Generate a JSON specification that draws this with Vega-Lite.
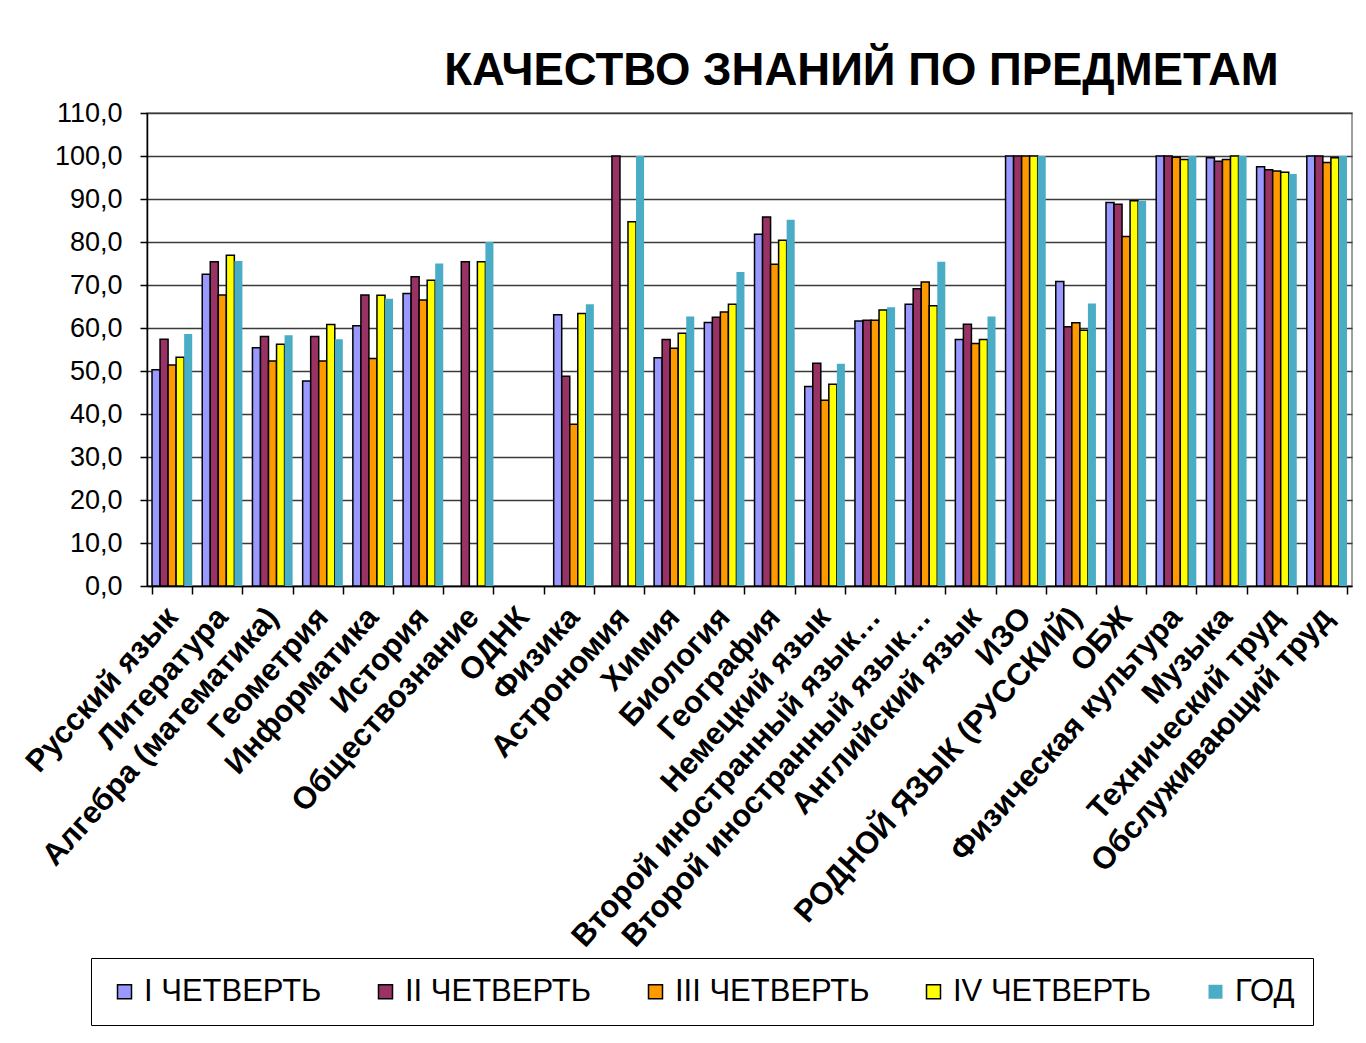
{
  "$schema": "https://vega.github.io/schema/vega-lite/v6.json",
  "autosize": {"type": "none"},
  "width": 1205,
  "height": 473,
  "padding": {"left": 147, "top": 113, "right": 14, "bottom": 457},
  "background": "white",
  "title": {
    "text": "КАЧЕСТВО ЗНАНИЙ ПО ПРЕДМЕТАМ",
    "font": "Liberation Sans",
    "fontSize": 45.5,
    "fontWeight": "bold",
    "color": "black",
    "anchor": "middle",
    "dx": 112,
    "offset": 5
  },
  "config": {
    "view": {"stroke": "#808080", "strokeWidth": 1.5},
    "font": "Liberation Sans"
  },
  "data": {
    "values": [
      {"subject": "Русский язык", "period": "I ЧЕТВЕРТЬ", "value": 50.3},
      {"subject": "Русский язык", "period": "II ЧЕТВЕРТЬ", "value": 57.4},
      {"subject": "Русский язык", "period": "III ЧЕТВЕРТЬ", "value": 51.4},
      {"subject": "Русский язык", "period": "IV ЧЕТВЕРТЬ", "value": 53.2},
      {"subject": "Русский язык", "period": "ГОД", "value": 58.6},
      {"subject": "Литература", "period": "I ЧЕТВЕРТЬ", "value": 72.5},
      {"subject": "Литература", "period": "II ЧЕТВЕРТЬ", "value": 75.4},
      {"subject": "Литература", "period": "III ЧЕТВЕРТЬ", "value": 67.7},
      {"subject": "Литература", "period": "IV ЧЕТВЕРТЬ", "value": 76.9},
      {"subject": "Литература", "period": "ГОД", "value": 75.6},
      {"subject": "Алгебра (математика)", "period": "I ЧЕТВЕРТЬ", "value": 55.4},
      {"subject": "Алгебра (математика)", "period": "II ЧЕТВЕРТЬ", "value": 58.0},
      {"subject": "Алгебра (математика)", "period": "III ЧЕТВЕРТЬ", "value": 52.3},
      {"subject": "Алгебра (математика)", "period": "IV ЧЕТВЕРТЬ", "value": 56.2},
      {"subject": "Алгебра (математика)", "period": "ГОД", "value": 58.3},
      {"subject": "Геометрия", "period": "I ЧЕТВЕРТЬ", "value": 47.7},
      {"subject": "Геометрия", "period": "II ЧЕТВЕРТЬ", "value": 58.0},
      {"subject": "Геометрия", "period": "III ЧЕТВЕРТЬ", "value": 52.3},
      {"subject": "Геометрия", "period": "IV ЧЕТВЕРТЬ", "value": 60.8},
      {"subject": "Геометрия", "period": "ГОД", "value": 57.4},
      {"subject": "Информатика", "period": "I ЧЕТВЕРТЬ", "value": 60.5},
      {"subject": "Информатика", "period": "II ЧЕТВЕРТЬ", "value": 67.7},
      {"subject": "Информатика", "period": "III ЧЕТВЕРТЬ", "value": 52.9},
      {"subject": "Информатика", "period": "IV ЧЕТВЕРТЬ", "value": 67.6},
      {"subject": "Информатика", "period": "ГОД", "value": 66.8},
      {"subject": "История", "period": "I ЧЕТВЕРТЬ", "value": 68.0},
      {"subject": "История", "period": "II ЧЕТВЕРТЬ", "value": 71.9},
      {"subject": "История", "period": "III ЧЕТВЕРТЬ", "value": 66.5},
      {"subject": "История", "period": "IV ЧЕТВЕРТЬ", "value": 71.1},
      {"subject": "История", "period": "ГОД", "value": 75.0},
      {"subject": "Обществознание", "period": "II ЧЕТВЕРТЬ", "value": 75.4},
      {"subject": "Обществознание", "period": "IV ЧЕТВЕРТЬ", "value": 75.4},
      {"subject": "Обществознание", "period": "ГОД", "value": 80.0},
      {"subject": "Физика", "period": "I ЧЕТВЕРТЬ", "value": 63.1},
      {"subject": "Физика", "period": "II ЧЕТВЕРТЬ", "value": 48.8},
      {"subject": "Физика", "period": "III ЧЕТВЕРТЬ", "value": 37.6},
      {"subject": "Физика", "period": "IV ЧЕТВЕРТЬ", "value": 63.4},
      {"subject": "Физика", "period": "ГОД", "value": 65.5},
      {"subject": "Астрономия", "period": "II ЧЕТВЕРТЬ", "value": 100.0},
      {"subject": "Астрономия", "period": "IV ЧЕТВЕРТЬ", "value": 84.7},
      {"subject": "Астрономия", "period": "ГОД", "value": 100.0},
      {"subject": "Химия", "period": "I ЧЕТВЕРТЬ", "value": 53.1},
      {"subject": "Химия", "period": "II ЧЕТВЕРТЬ", "value": 57.3},
      {"subject": "Химия", "period": "III ЧЕТВЕРТЬ", "value": 55.3},
      {"subject": "Химия", "period": "IV ЧЕТВЕРТЬ", "value": 58.8},
      {"subject": "Химия", "period": "ГОД", "value": 62.7},
      {"subject": "Биология", "period": "I ЧЕТВЕРТЬ", "value": 61.3},
      {"subject": "Биология", "period": "II ЧЕТВЕРТЬ", "value": 62.5},
      {"subject": "Биология", "period": "III ЧЕТВЕРТЬ", "value": 63.7},
      {"subject": "Биология", "period": "IV ЧЕТВЕРТЬ", "value": 65.5},
      {"subject": "Биология", "period": "ГОД", "value": 73.0},
      {"subject": "География", "period": "I ЧЕТВЕРТЬ", "value": 81.8},
      {"subject": "География", "period": "II ЧЕТВЕРТЬ", "value": 85.8},
      {"subject": "География", "period": "III ЧЕТВЕРТЬ", "value": 74.8},
      {"subject": "География", "period": "IV ЧЕТВЕРТЬ", "value": 80.4},
      {"subject": "География", "period": "ГОД", "value": 85.2},
      {"subject": "Немецкий язык", "period": "I ЧЕТВЕРТЬ", "value": 46.4},
      {"subject": "Немецкий язык", "period": "II ЧЕТВЕРТЬ", "value": 51.8},
      {"subject": "Немецкий язык", "period": "III ЧЕТВЕРТЬ", "value": 43.2},
      {"subject": "Немецкий язык", "period": "IV ЧЕТВЕРТЬ", "value": 46.9},
      {"subject": "Немецкий язык", "period": "ГОД", "value": 51.7},
      {"subject": "Второй иностранный язык…", "period": "I ЧЕТВЕРТЬ", "value": 61.6},
      {"subject": "Второй иностранный язык…", "period": "II ЧЕТВЕРТЬ", "value": 61.8},
      {"subject": "Второй иностранный язык…", "period": "III ЧЕТВЕРТЬ", "value": 61.8},
      {"subject": "Второй иностранный язык…", "period": "IV ЧЕТВЕРТЬ", "value": 64.2},
      {"subject": "Второй иностранный язык…", "period": "ГОД", "value": 64.8},
      {"subject": "Второй иностранный язык… ", "period": "I ЧЕТВЕРТЬ", "value": 65.5},
      {"subject": "Второй иностранный язык… ", "period": "II ЧЕТВЕРТЬ", "value": 69.1},
      {"subject": "Второй иностранный язык… ", "period": "III ЧЕТВЕРТЬ", "value": 70.7},
      {"subject": "Второй иностранный язык… ", "period": "IV ЧЕТВЕРТЬ", "value": 65.2},
      {"subject": "Второй иностранный язык… ", "period": "ГОД", "value": 75.4},
      {"subject": "Английский язык", "period": "I ЧЕТВЕРТЬ", "value": 57.3},
      {"subject": "Английский язык", "period": "II ЧЕТВЕРТЬ", "value": 60.9},
      {"subject": "Английский язык", "period": "III ЧЕТВЕРТЬ", "value": 56.4},
      {"subject": "Английский язык", "period": "IV ЧЕТВЕРТЬ", "value": 57.3},
      {"subject": "Английский язык", "period": "ГОД", "value": 62.7},
      {"subject": "ИЗО", "period": "I ЧЕТВЕРТЬ", "value": 100.0},
      {"subject": "ИЗО", "period": "II ЧЕТВЕРТЬ", "value": 100.0},
      {"subject": "ИЗО", "period": "III ЧЕТВЕРТЬ", "value": 100.0},
      {"subject": "ИЗО", "period": "IV ЧЕТВЕРТЬ", "value": 100.0},
      {"subject": "ИЗО", "period": "ГОД", "value": 100.0},
      {"subject": "РОДНОЙ ЯЗЫК (РУССКИЙ)", "period": "I ЧЕТВЕРТЬ", "value": 70.8},
      {"subject": "РОДНОЙ ЯЗЫК (РУССКИЙ)", "period": "II ЧЕТВЕРТЬ", "value": 60.3},
      {"subject": "РОДНОЙ ЯЗЫК (РУССКИЙ)", "period": "III ЧЕТВЕРТЬ", "value": 61.2},
      {"subject": "РОДНОЙ ЯЗЫК (РУССКИЙ)", "period": "IV ЧЕТВЕРТЬ", "value": 59.5},
      {"subject": "РОДНОЙ ЯЗЫК (РУССКИЙ)", "period": "ГОД", "value": 65.7},
      {"subject": "ОБЖ", "period": "I ЧЕТВЕРТЬ", "value": 89.2},
      {"subject": "ОБЖ", "period": "II ЧЕТВЕРТЬ", "value": 88.8},
      {"subject": "ОБЖ", "period": "III ЧЕТВЕРТЬ", "value": 81.3},
      {"subject": "ОБЖ", "period": "IV ЧЕТВЕРТЬ", "value": 89.6},
      {"subject": "ОБЖ", "period": "ГОД", "value": 89.6},
      {"subject": "Физическая культура", "period": "I ЧЕТВЕРТЬ", "value": 100.0},
      {"subject": "Физическая культура", "period": "II ЧЕТВЕРТЬ", "value": 100.0},
      {"subject": "Физическая культура", "period": "III ЧЕТВЕРТЬ", "value": 99.7},
      {"subject": "Физическая культура", "period": "IV ЧЕТВЕРТЬ", "value": 99.2},
      {"subject": "Физическая культура", "period": "ГОД", "value": 100.0},
      {"subject": "Музыка", "period": "I ЧЕТВЕРТЬ", "value": 99.6},
      {"subject": "Музыка", "period": "II ЧЕТВЕРТЬ", "value": 98.8},
      {"subject": "Музыка", "period": "III ЧЕТВЕРТЬ", "value": 99.2},
      {"subject": "Музыка", "period": "IV ЧЕТВЕРТЬ", "value": 100.0},
      {"subject": "Музыка", "period": "ГОД", "value": 100.0},
      {"subject": "Технический труд", "period": "I ЧЕТВЕРТЬ", "value": 97.5},
      {"subject": "Технический труд", "period": "II ЧЕТВЕРТЬ", "value": 96.8},
      {"subject": "Технический труд", "period": "III ЧЕТВЕРТЬ", "value": 96.5},
      {"subject": "Технический труд", "period": "IV ЧЕТВЕРТЬ", "value": 96.2},
      {"subject": "Технический труд", "period": "ГОД", "value": 95.8},
      {"subject": "Обслуживающий труд", "period": "I ЧЕТВЕРТЬ", "value": 100.0},
      {"subject": "Обслуживающий труд", "period": "II ЧЕТВЕРТЬ", "value": 100.0},
      {"subject": "Обслуживающий труд", "period": "III ЧЕТВЕРТЬ", "value": 98.5},
      {"subject": "Обслуживающий труд", "period": "IV ЧЕТВЕРТЬ", "value": 99.6},
      {"subject": "Обслуживающий труд", "period": "ГОД", "value": 100.0}
    ]
  },
  "mark": {"type": "bar", "strokeWidth": 1.5},
  "encoding": {
    "x": {
      "field": "subject",
      "type": "nominal",
      "scale": {
        "domain": ["Русский язык", "Литература", "Алгебра (математика)", "Геометрия", "Информатика", "История", "Обществознание", "ОДНК", "Физика", "Астрономия", "Химия", "Биология", "География", "Немецкий язык", "Второй иностранный язык…", "Второй иностранный язык… ", "Английский язык", "ИЗО", "РОДНОЙ ЯЗЫК (РУССКИЙ)", "ОБЖ", "Физическая культура", "Музыка", "Технический труд", "Обслуживающий труд"],
        "paddingInner": 0.2,
        "paddingOuter": 0.1
      },
      "axis": {
        "title": null,
        "labelAngle": -48,
        "labelAlign": "right",
        "labelBaseline": "middle",
        "labelFont": "Liberation Sans",
        "labelFontSize": 31,
        "labelFontWeight": "bold",
        "labelColor": "black",
        "labelLimit": 0,
        "labelPadding": 18,
        "labelOverlap": false,
        "tickBand": "extent",
        "tickColor": "black",
        "tickSize": 8,
        "tickWidth": 1.5,
        "domainColor": "black",
        "domainWidth": 1.5
      }
    },
    "xOffset": {
      "field": "period",
      "type": "nominal",
      "scale": {"domain": ["I ЧЕТВЕРТЬ", "II ЧЕТВЕРТЬ", "III ЧЕТВЕРТЬ", "IV ЧЕТВЕРТЬ", "ГОД"], "paddingInner": 0, "paddingOuter": 0}
    },
    "y": {
      "field": "value",
      "type": "quantitative",
      "scale": {"domain": [0, 110], "nice": false},
      "axis": {
        "title": null,
        "values": [0, 10, 20, 30, 40, 50, 60, 70, 80, 90, 100, 110],
        "labelExpr": "replace(format(datum.value, '.1f'), '.', ',')",
        "labelFont": "Liberation Sans",
        "labelFontSize": 27,
        "labelColor": "black",
        "labelPadding": 18,
        "tickColor": "black",
        "tickSize": 7,
        "tickWidth": 1.5,
        "domainColor": "black",
        "domainWidth": 1.5,
        "grid": true,
        "gridColor": "#3a3a3a",
        "gridWidth": 1.5
      }
    },
    "color": {
      "field": "period",
      "type": "nominal",
      "scale": {
        "domain": ["I ЧЕТВЕРТЬ", "II ЧЕТВЕРТЬ", "III ЧЕТВЕРТЬ", "IV ЧЕТВЕРТЬ", "ГОД"],
        "range": ["#9999FF", "#993366", "#FF9900", "#FFFF00", "#4BACC6"]
      },
      "legend": {
        "title": null,
        "orient": "none",
        "direction": "horizontal",
        "legendX": -56,
        "legendY": 845,
        "padding": 18,
        "strokeColor": "black",
        "fillColor": "white",
        "symbolType": "square",
        "symbolSize": 196,
        "symbolStrokeColor": "black",
        "symbolStrokeWidth": 1.5,
        "symbolOpacity": 1,
        "labelFont": "Liberation Sans",
        "labelFontSize": 31,
        "labelColor": "black",
        "labelOffset": 4,
        "labelLimit": 0,
        "columnPadding": 48,
        "encode": {
          "symbols": {
            "update": {
              "stroke": [
                {"test": "datum.value === 'ГОД'", "value": "transparent"},
                {"value": "black"}
              ]
            }
          }
        }
      }
    },
    "stroke": {
      "condition": {"test": "datum.period === 'ГОД'", "value": null},
      "value": "black"
    },
    "opacity": {"value": 1}
  }
}
